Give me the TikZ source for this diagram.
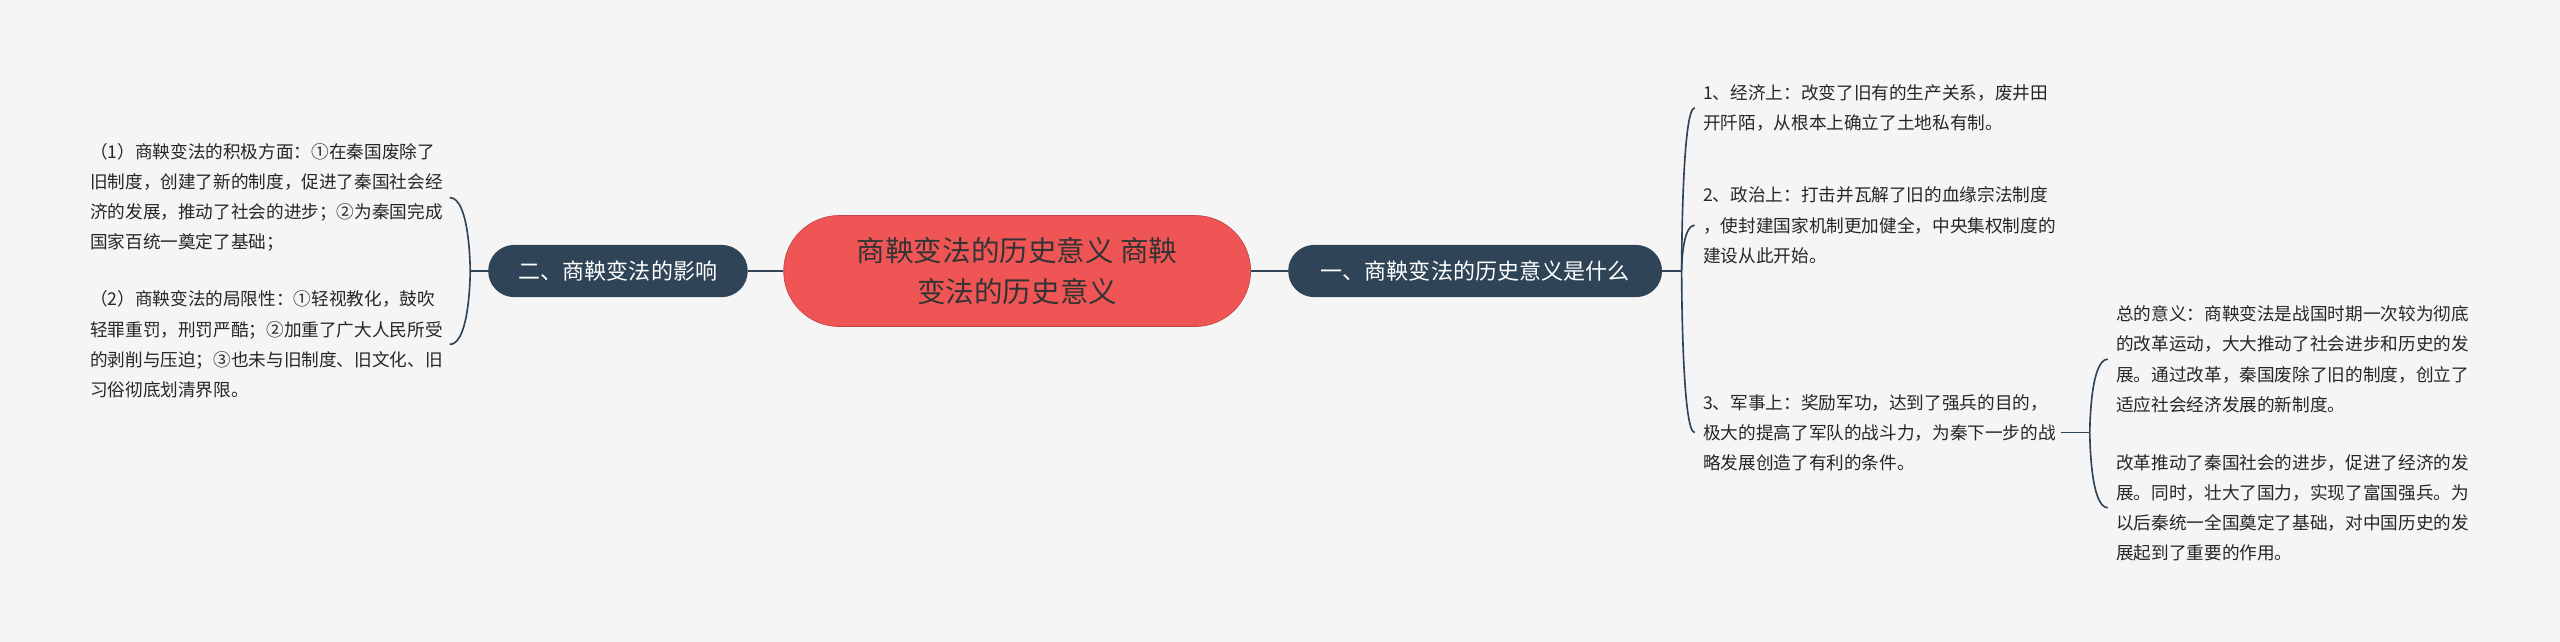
\documentclass[tikz,border=0pt]{standalone}
\usepackage{fontspec}
\setmainfont{Noto Sans CJK SC}
\begin{document}
\begin{tikzpicture}[x=1pt,y=-1pt,
  line/.style={draw=slate,line width=1.2pt},
  branch/.style={fill=slate,text=white,rounded corners=16pt,minimum height=32pt,font=\fontsize{13.5}{16}\selectfont,inner xsep=12pt},
  leaf/.style={anchor=west,align=left,text=black!85,font=\fontsize{10.8}{18.5}\selectfont,inner sep=0pt}]
\definecolor{slate}{HTML}{2F4456}
\definecolor{redc}{HTML}{F05556}
\fill[fill={rgb,255:red,245;green,245;blue,245}] (0,0) rectangle (1568,393);
\useasboundingbox (0,0) rectangle (1568,393);
\node[fill=redc,draw=redc!80!black,rounded corners=34pt,minimum width=286pt,minimum height=68pt,align=center,text=black!80,font=\fontsize{17.5}{25}\selectfont] (c) at (623,166) {商鞅变法的历史意义 商鞅\\变法的历史意义};
\node[branch,minimum width=229pt] (r) at (903.5,166) {一、商鞅变法的历史意义是什么};
\node[branch,minimum width=159pt] (l) at (378.5,166) {二、商鞅变法的影响};
\draw[line] (c.east) -- (r.west);
\draw[line] (c.west) -- (l.west -| l.east);
\node[leaf] (r1) at (1043,66) {1、经济上：改变了旧有的生产关系，废井田\\开阡陌，从根本上确立了土地私有制。};
\node[leaf] (r2) at (1043,138) {2、政治上：打击并瓦解了旧的血缘宗法制度\\，使封建国家机制更加健全，中央集权制度的\\建设从此开始。};
\node[leaf] (r3) at (1043,265) {3、军事上：奖励军功，达到了强兵的目的，\\极大的提高了军队的战斗力，为秦下一步的战\\略发展创造了有利的条件。};
\node[leaf] (s1) at (1296,220) {总的意义：商鞅变法是战国时期一次较为彻底\\的改革运动，大大推动了社会进步和历史的发\\展。通过改革，秦国废除了旧的制度，创立了\\适应社会经济发展的新制度。};
\node[leaf] (s2) at (1296,311) {改革推动了秦国社会的进步，促进了经济的发\\展。同时，壮大了国力，实现了富国强兵。为\\以后秦统一全国奠定了基础，对中国历史的发\\展起到了重要的作用。};
\node[leaf] (l1) at (55,121) {（1）商鞅变法的积极方面：①在秦国废除了\\旧制度，创建了新的制度，促进了秦国社会经\\济的发展，推动了社会的进步；②为秦国完成\\国家百统一奠定了基础；};
\node[leaf] (l2) at (55,211) {（2）商鞅变法的局限性：①轻视教化，鼓吹\\轻罪重罚，刑罚严酷；②加重了广大人民所受\\的剥削与压迫；③也未与旧制度、旧文化、旧\\习俗彻底划清界限。};
% right bracket
\coordinate (rb) at (1030,166);
\draw[line,line width=1pt] (r.east) -- (rb);
\foreach \t in {r1,r2,r3}{
  \draw[line,line width=1pt] (rb) .. controls (1030,166) and (1030,0|-\t.west) .. ([xshift=-5pt]\t.west);
}
% sub bracket
\coordinate (sb) at (1280,265);
\draw[line,line width=1pt] (r3.east |- 0,265) ++(3,0) -- (sb);
\foreach \t in {s1,s2}{
  \draw[line,line width=1pt] (sb) .. controls (1280,265) and (1280,0|-\t.west) .. ([xshift=-5pt]\t.west);
}
% left bracket
\coordinate (lb) at (288,166);
\draw[line,line width=1pt] (l.west) -- (lb);
\foreach \t in {l1,l2}{
  \draw[line,line width=1pt] (lb) .. controls (288,166) and (288,0|-\t.west) .. ([xshift=4pt]\t.east |- \t.west);
}
\end{tikzpicture}
\end{document}
